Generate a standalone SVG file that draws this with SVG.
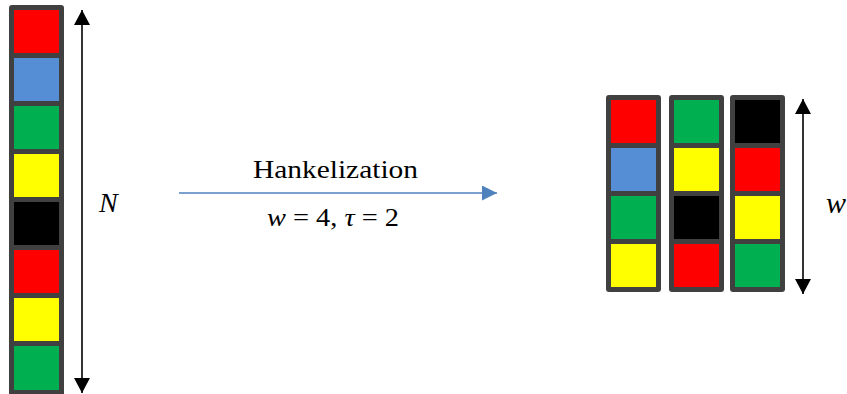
<svg xmlns="http://www.w3.org/2000/svg" width="847" height="394" viewBox="0 0 847 394">
  <style>
    .bar { fill: #404040; }
    .r { fill: #FF0000; }
    .b { fill: #558ED5; }
    .g { fill: #00B050; }
    .y { fill: #FFFF00; }
    .k { fill: #000000; }
    .lbl { font-family: "Liberation Serif", "Times New Roman", serif; fill: #000; }
    .it { font-style: italic; }
    .dim { stroke: #000; stroke-width: 1.6; fill: none; }
    .flow { stroke: #4F81BD; stroke-width: 1.6; fill: none; }
  </style>
  <defs>
    <marker id="headK" markerUnits="userSpaceOnUse" markerWidth="16" markerHeight="16" viewBox="0 0 15 16" refX="15" refY="8" orient="auto-start-reverse">
      <path d="M0,0 L15,8 L0,16 Z" fill="#000"/>
    </marker>
    <marker id="headB" markerUnits="userSpaceOnUse" markerWidth="15" markerHeight="15" viewBox="0 0 15 15" refX="15" refY="7.5" orient="auto">
      <path d="M0,0 L15,7.5 L0,15 Z" fill="#4F81BD"/>
    </marker>
  </defs>
  <rect width="847" height="394" fill="#fff"/>

  <g id="sequence">
    <rect class="bar" x="9" y="5" width="55" height="391" rx="3"/>
    <rect class="r" x="14" y="10" width="45" height="43"/>
    <rect class="b" x="14" y="58" width="45" height="43"/>
    <rect class="g" x="14" y="106" width="45" height="43"/>
    <rect class="y" x="14" y="154" width="45" height="43"/>
    <rect class="k" x="14" y="202" width="45" height="43"/>
    <rect class="r" x="14" y="250" width="45" height="43"/>
    <rect class="y" x="14" y="298" width="45" height="43"/>
    <rect class="g" x="14" y="346" width="45" height="44"/>
  </g>

  <g id="window1">
    <rect class="bar" x="606" y="95" width="55" height="197" rx="3"/>
    <rect class="r" x="611" y="100" width="45" height="43"/>
    <rect class="b" x="611" y="148" width="45" height="43"/>
    <rect class="g" x="611" y="196" width="45" height="43"/>
    <rect class="y" x="611" y="244" width="45" height="43"/>
  </g>
  <g id="window2">
    <rect class="bar" x="669" y="95" width="55" height="197" rx="3"/>
    <rect class="g" x="674" y="100" width="45" height="43"/>
    <rect class="y" x="674" y="148" width="45" height="43"/>
    <rect class="k" x="674" y="196" width="45" height="43"/>
    <rect class="r" x="674" y="244" width="45" height="43"/>
  </g>
  <g id="window3">
    <rect class="bar" x="730" y="95" width="55" height="197" rx="3"/>
    <rect class="k" x="735" y="100" width="45" height="43"/>
    <rect class="r" x="735" y="148" width="45" height="43"/>
    <rect class="y" x="735" y="196" width="45" height="43"/>
    <rect class="g" x="735" y="244" width="45" height="43"/>
  </g>

  <g id="connectors">
    <line class="dim" x1="82" y1="10" x2="82" y2="393" marker-start="url(#headK)" marker-end="url(#headK)"/>
    <line class="flow" x1="179" y1="193" x2="497" y2="193" marker-end="url(#headB)"/>
    <line class="dim" x1="803" y1="99" x2="803" y2="294" marker-start="url(#headK)" marker-end="url(#headK)"/>
  </g>

  <g id="labels">
    <text class="lbl it" x="99" y="212" font-size="28">N</text>
    <text class="lbl" x="335.5" y="178" font-size="25" text-anchor="middle" textLength="165" lengthAdjust="spacingAndGlyphs">Hankelization</text>
    <text class="lbl" x="333" y="226" font-size="25" text-anchor="middle" textLength="132" lengthAdjust="spacingAndGlyphs"><tspan class="it">w</tspan> = 4, <tspan class="it">τ</tspan> = 2</text>
    <text class="lbl it" x="826" y="213" font-size="30">w</text>
  </g>
</svg>
